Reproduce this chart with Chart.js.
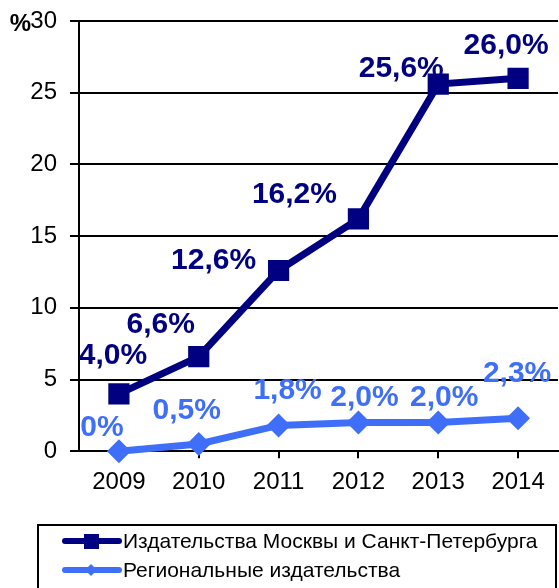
<!DOCTYPE html>
<html>
<head>
<meta charset="utf-8">
<script src="https://cdn.jsdelivr.net/npm/chart.js@4/dist/chart.umd.min.js"></script>
<style>
  html, body { margin: 0; padding: 0; background: #fff; }
  #wrap { width: 559px; height: 588px; position: relative; }
</style>
</head>
<body>
<div id="wrap"><canvas id="chart"></canvas></div>
<script>
const years = ['2009', '2010', '2011', '2012', '2013', '2014'];
const moscowValues = [4.0, 6.6, 12.6, 16.2, 25.6, 26.0];
const regionalValues = [0, 0.5, 1.8, 2.0, 2.0, 2.3];
const moscowLabels = ['4,0%', '6,6%', '12,6%', '16,2%', '25,6%', '26,0%'];
const regionalLabels = ['0%', '0,5%', '1,8%', '2,0%', '2,0%', '2,3%'];
const seriesNames = ['Издательства Москвы и Санкт-Петербурга', 'Региональные издательства'];

const navy = '#000080';
const blue = '#3f6ff8';
const FONT = 'Arial, "Liberation Sans", sans-serif';

// label offsets relative to each point (dx, dy)
const moscowOffsets = [[-6, -40], [-38, -34], [-65, -12], [-64, -26], [-37, -17], [-12, -35]];
const regionalOffsets = [[-17, -25], [-12, -35], [9, -37], [6, -27], [6, -27], [-1, -46]];

const labelPlugin = {
  id: 'pointLabels',
  afterDatasetsDraw(chart) {
    const ctx = chart.ctx;
    ctx.save();
    ctx.font = 'bold 30px ' + FONT;
    ctx.textAlign = 'center';
    ctx.textBaseline = 'middle';
    const sets = [[moscowLabels, moscowOffsets, navy], [regionalLabels, regionalOffsets, blue]];
    sets.forEach((s, di) => {
      const meta = chart.getDatasetMeta(di);
      meta.data.forEach((pt, i) => {
        ctx.fillStyle = s[2];
        ctx.fillText(s[0][i], pt.x + s[1][i][0], pt.y + s[1][i][1] + 2);
      });
    });
    // percent sign next to the top tick
    ctx.fillStyle = '#000';
    ctx.font = 'bold 24px ' + FONT;
    ctx.textAlign = 'right';
    ctx.fillText('%', 31, chart.scales.y.getPixelForValue(30) + 3);
    ctx.restore();
  },
  afterDraw(chart) {
    const ctx = chart.ctx;
    ctx.save();
    ctx.strokeStyle = '#000';
    ctx.lineWidth = 2;
    ctx.strokeRect(38, 525, 518, 70);
    const rows = [[navy, 'rect'], [blue, 'rectRot']];
    rows.forEach((r, i) => {
      const y = 541 + i * 29;
      ctx.strokeStyle = r[0];
      ctx.fillStyle = r[0];
      ctx.lineWidth = 6;
      ctx.lineCap = 'round';
      ctx.beginPath();
      ctx.moveTo(65, y);
      ctx.lineTo(119, y);
      ctx.stroke();
      if (r[1] === 'rect') {
        ctx.fillRect(84, y - 7, 15, 15);
      } else {
        ctx.beginPath();
        ctx.moveTo(91, y - 6); ctx.lineTo(97, y); ctx.lineTo(91, y + 6); ctx.lineTo(85, y);
        ctx.closePath(); ctx.fill();
      }
      ctx.fillStyle = '#000';
      ctx.font = '21px ' + FONT;
      ctx.textAlign = 'left';
      ctx.textBaseline = 'middle';
      ctx.fillText(seriesNames[i], 123, y + 1);
    });
    ctx.restore();
  }
};

new Chart(document.getElementById('chart'), {
  type: 'line',
  data: {
    labels: years,
    datasets: [{
      label: seriesNames[0],
      data: moscowValues,
      borderColor: navy,
      backgroundColor: navy,
      borderWidth: 7,
      pointStyle: 'rect',
      pointRadius: 15,
      pointBorderWidth: 0,
      pointHoverRadius: 15,
      tension: 0
    }, {
      label: seriesNames[1],
      data: regionalValues,
      borderColor: blue,
      backgroundColor: blue,
      borderWidth: 7,
      pointStyle: 'rectRot',
      pointRadius: 12,
      pointBorderWidth: 0,
      pointHoverRadius: 12,
      tension: 0,
      clip: false
    }]
  },
  options: {
    responsive: true,
    maintainAspectRatio: false,
    animation: false,
    layout: { autoPadding: false, padding: { top: 21, right: 1, bottom: 81, left: 0 } },
    plugins: { legend: { display: false }, tooltip: { enabled: false } },
    scales: {
      x: {
        offset: true,
        afterFit(scale) { scale.paddingLeft = 0; scale.paddingRight = 0; },
        grid: { drawOnChartArea: false, color: '#000', lineWidth: 2, tickLength: 7 },
        border: { color: '#000', width: 2 },
        ticks: { color: '#000', font: { family: FONT, size: 24 }, padding: 10 }
      },
      y: {
        min: 0,
        max: 30,
        afterFit(scale) { scale.width = 79; scale.paddingTop = 0; scale.paddingBottom = 0; },
        ticks: { stepSize: 5, color: '#000', font: { family: FONT, size: 24 }, padding: 13 },
        grid: { color: '#000', lineWidth: 2, tickLength: 9 },
        border: { color: '#000', width: 2 }
      }
    }
  },
  plugins: [labelPlugin]
});
</script>
</body>
</html>
